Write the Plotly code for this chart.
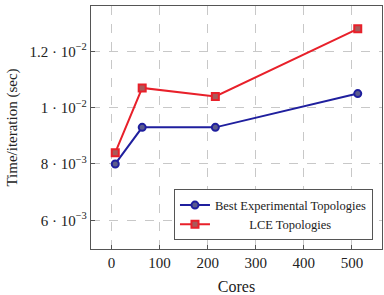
import plotly.graph_objects as go

cores = [8, 64, 216, 512]
best_exp = [8.0e-3, 9.3e-3, 9.3e-3, 10.5e-3]
lce = [8.4e-3, 10.7e-3, 10.4e-3, 12.8e-3]

x_ticks = [0, 100, 200, 300, 400, 500]
y_ticks = [6e-3, 8e-3, 10e-3, 12e-3]
y_ticktext = ["6 · 10<sup>−3</sup>", "8 · 10<sup>−3</sup>", "1 · 10<sup>−2</sup>", "1.2 · 10<sup>−2</sup>"]

FONT = "Liberation Serif"

fig = go.Figure()
fig.add_trace(go.Scatter(
    x=cores, y=best_exp, mode="lines+markers",
    name="Best Experimental Topologies",
    line=dict(color="#1f1f9e", width=2),
    marker=dict(symbol="circle", size=7, color="#5b5b8c", line=dict(color="#1f1f9e", width=2)),
))
fig.add_trace(go.Scatter(
    x=cores, y=lce, mode="lines+markers",
    name="&nbsp;&nbsp;&nbsp;&nbsp;&nbsp;&nbsp;&nbsp;&nbsp;&nbsp;&nbsp;&nbsp;LCE Topologies",
    line=dict(color="#e8202a", width=2),
    marker=dict(symbol="square", size=7, color="#a85a5a", line=dict(color="#e8202a", width=2)),
))

axis_common = dict(
    showline=True, linecolor="#555555", linewidth=1.3, mirror=True,
    showgrid=True, gridcolor="#c8c8c8", griddash="dash", gridwidth=1,
    zeroline=False, ticks="inside", ticklen=4, tickcolor="#555555",
    tickfont=dict(family=FONT, size=15, color="#222222"),
)

fig.update_layout(
    width=384, height=295,
    margin=dict(l=91, r=2, t=6, b=46),
    paper_bgcolor="white", plot_bgcolor="white",
    font=dict(family=FONT, color="#222222"),
    showlegend=True,
    legend=dict(
        x=0.969, y=0.035, xanchor="right", yanchor="bottom",
        bgcolor="white", bordercolor="#555555", borderwidth=1,
        font=dict(family=FONT, size=12.5, color="#222222"),
        tracegroupgap=0, itemwidth=30,
    ),
    xaxis=dict(
        range=[-42.4, 562.4], tickvals=x_ticks,
        title=dict(text="Cores", font=dict(family=FONT, size=16), standoff=10),
        **axis_common,
    ),
    yaxis=dict(
        range=[4.98e-3, 13.61e-3], tickvals=y_ticks, ticktext=y_ticktext,
        title=dict(text="Time/iteration (sec)", font=dict(family=FONT, size=15), standoff=8),
        **axis_common,
    ),
)

fig.write_html("out.html")
